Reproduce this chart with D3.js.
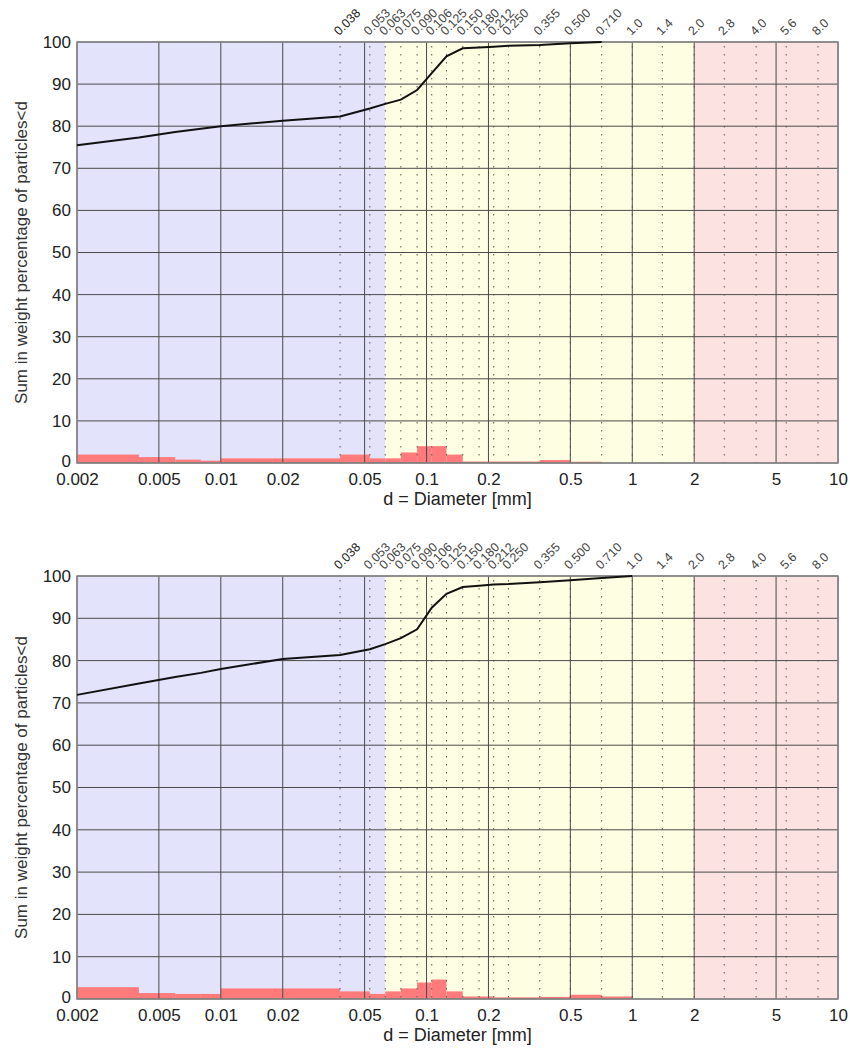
<!DOCTYPE html>
<meta charset="utf-8">
<style>
body { margin: 0; background: #fff; }
text { font-family: Arial, "Liberation Sans", sans-serif; }
</style>

<svg width="850" height="1048" id="chart"></svg>

<script src="https://d3js.org/d3.v7.min.js"></script>
<script>

// sieve sizes printed along the top of each panel
var sieves = [0.038, 0.053, 0.063, 0.075, 0.090, 0.106, 0.125, 0.150, 0.180, 0.212, 0.250, 0.355, 0.500, 0.710, 1.0, 1.4, 2.0, 2.8, 4.0, 5.6, 8.0]
var sieveLabels = ["0.038", "0.053", "0.063", "0.075", "0.090", "0.106", "0.125", "0.150", "0.180", "0.212", "0.250", "0.355", "0.500", "0.710", "1.0", "1.4", "2.0", "2.8", "4.0", "5.6", "8.0"]

var xTicks = [0.002, 0.005, 0.01, 0.02, 0.05, 0.1, 0.2, 0.5, 1, 2, 5, 10]
var xTickLabels = ["0.002", "0.005", "0.01", "0.02", "0.05", "0.1", "0.2", "0.5", "1", "2", "5", "10"]
var yTicks = [0, 10, 20, 30, 40, 50, 60, 70, 80, 90, 100]

// silt / sand / gravel bands
var zoneEdges = [0.002, 0.063, 2, 10]

// top sample
var topSizes   = [0.002, 0.004, 0.006, 0.008, 0.01, 0.02, 0.038, 0.053, 0.063, 0.075, 0.090, 0.106, 0.125, 0.150, 0.180, 0.212, 0.250, 0.355, 0.500, 0.710]
var topPassing = [75.5, 77.3, 78.6, 79.4, 80.0, 81.3, 82.3, 84.2, 85.3, 86.3, 88.6, 92.6, 96.6, 98.5, 98.7, 98.9, 99.1, 99.3, 99.7, 100]
var topRetained = [2.0, 1.4, 0.8, 0.55, 1.1, 1.1, 2.0, 1.1, 1.1, 2.5, 4.0, 4.0, 2.0, 0.35, 0.35, 0.35, 0.35, 0.7, 0.3]

// bottom sample
var botSizes   = [0.002, 0.004, 0.006, 0.008, 0.01, 0.02, 0.038, 0.053, 0.063, 0.075, 0.090, 0.106, 0.125, 0.150, 0.180, 0.212, 0.250, 0.355, 0.500, 0.710, 1.0]
var botPassing = [71.9, 74.6, 76.1, 77.1, 78.0, 80.4, 81.3, 82.7, 83.9, 85.3, 87.4, 92.5, 95.8, 97.4, 97.7, 98.0, 98.1, 98.5, 99.0, 99.5, 100]
var botRetained = [2.8, 1.4, 1.2, 1.2, 2.5, 2.5, 1.8, 1.2, 1.8, 2.5, 3.9, 4.6, 1.8, 0.6, 0.6, 0.4, 0.4, 0.5, 1.0, 0.6]

var zoneColors = ["#e3e3fb", "#fefee2", "#fde2e2"]

var svg = d3.select("#chart")

panel(42, 463, topSizes, topPassing, topRetained)
panel(576, 999, botSizes, botPassing, botRetained)

function panel(top, bottom, sizes, passing, retained) {

	var x = d3.scaleLog().domain([0.002, 10]).range([77, 838])
	var y = d3.scaleLinear().domain([0, 100]).range([bottom, top])

	var g = svg.append("g")

	// background bands
	g.selectAll(".zone").data(d3.range(zoneEdges.length - 1)).enter().append("rect")
		.attr("x", i => x(zoneEdges[i]))
		.attr("width", i => x(zoneEdges[i + 1]) - x(zoneEdges[i]))
		.attr("y", top)
		.attr("height", bottom - top)
		.style("fill", i => zoneColors[i])

	// fraction bars
	g.selectAll(".bar").data(retained).enter().append("rect")
		.attr("x", (d, i) => x(sizes[i]))
		.attr("width", (d, i) => x(sizes[i + 1]) - x(sizes[i]))
		.attr("y", d => y(d))
		.attr("height", d => y(0) - y(d))
		.style("fill", "#ff7b7b")

	// dotted sieve lines
	g.selectAll(".sv").data(sieves).enter().append("line")
		.attr("x1", d => x(d)).attr("x2", d => x(d))
		.attr("y1", top + 4).attr("y2", bottom)
		.style("stroke", "#555")
		.style("stroke-width", 1)
		.style("stroke-dasharray", "1.5,6.5")

	// solid grid
	g.selectAll(".vg").data(xTicks).enter().append("line")
		.attr("x1", d => x(d)).attr("x2", d => x(d))
		.attr("y1", top).attr("y2", bottom)
		.style("stroke", "#4a4a4a")
		.style("stroke-width", 1)
	g.selectAll(".hg").data(yTicks).enter().append("line")
		.attr("x1", x(0.002)).attr("x2", x(10))
		.attr("y1", d => y(d)).attr("y2", d => y(d))
		.style("stroke", "#4a4a4a")
		.style("stroke-width", 1)

	g.append("rect")
		.attr("x", x(0.002)).attr("y", top)
		.attr("width", x(10) - x(0.002)).attr("height", bottom - top)
		.style("fill", "none")
		.style("stroke", "#888")
		.style("stroke-width", 1.5)

	// cumulative curve
	var line = d3.line().x(d => x(d[0])).y(d => y(d[1]))
	g.append("path")
		.datum(sizes.map((s, i) => [s, passing[i]]))
		.attr("d", line)
		.style("fill", "none")
		.style("stroke", "#111")
		.style("stroke-width", 2)

	// axes (labels only)
	var xa = g.append("g")
		.attr("transform", "translate(0," + bottom + ")")
		.call(d3.axisBottom(x).tickValues(xTicks).tickFormat((d, i) => xTickLabels[i]).tickSize(0).tickPadding(10))
	xa.select(".domain").remove()
	xa.selectAll("text").style("font-size", "17px").style("fill", "#222").style("font-family", "Arial, 'Liberation Sans', sans-serif")

	var ya = g.append("g")
		.attr("transform", "translate(" + x(0.002) + ",0)")
		.call(d3.axisLeft(y).tickValues(yTicks).tickSize(0).tickPadding(6))
	ya.select(".domain").remove()
	ya.selectAll("text").style("font-size", "17px").style("fill", "#222").style("font-family", "Arial, 'Liberation Sans', sans-serif")
	ya.selectAll("text").filter(d => d == 0).attr("dy", "0.2em")

	// sieve size labels
	g.selectAll(".sl").data(sieves).enter().append("text")
		.attr("transform", d => "translate(" + (x(d) - 1) + "," + (top - 6) + ") rotate(-45)")
		.text((d, i) => sieveLabels[i])
		.style("font-size", "12.5px")
		.style("fill", (d, i) => i == 0 ? "#222" : "#444")

	g.append("text")
		.attr("x", (x(0.002) + x(10)) / 2)
		.attr("y", bottom + 42)
		.style("text-anchor", "middle")
		.style("font-size", "18px")
		.style("fill", "#222")
		.text("d = Diameter [mm]")

	g.append("text")
		.attr("transform", "translate(27," + ((top + bottom) / 2) + ") rotate(-90)")
		.style("text-anchor", "middle")
		.style("font-size", "17px")
		.style("fill", "#333")
		.text("Sum in weight percentage of particles<d")
}

</script>
